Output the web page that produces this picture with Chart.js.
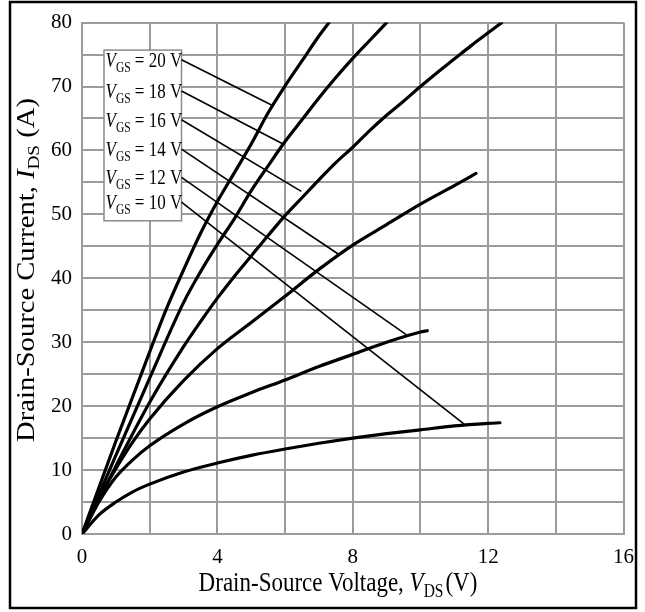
<!DOCTYPE html>
<html><head><meta charset="utf-8">
<script src="https://cdn.jsdelivr.net/npm/chart.js@4"></script>
<style>html,body{margin:0;padding:0;background:#fff;}#wrap{width:645px;height:612px;}</style>
</head><body><div id="wrap"><canvas id="c" width="645" height="612"></canvas></div>
<script>
// ---- data ----
const vgsLabels = ['20', '18', '16', '14', '12', '10'];

const vds20 = [0, 1, 2, 2.5, 3, 3.5, 4, 4.5, 5, 5.5, 6, 6.5, 7, 7.3];
const ids20 = [0, 14.5, 28.5, 35.3, 41.3, 47.0, 52.0, 56.5, 61.0, 65.9, 70.1, 74.0, 77.9, 80];

const vds18 = [0, 1, 2, 3, 3.5, 4, 4.5, 5, 5.5, 6, 6.5, 7, 7.5, 8, 8.5, 9];
const ids18 = [0, 12.3, 24.4, 36.2, 41.0, 45.3, 49.3, 53.7, 57.6, 61.4, 64.8, 68.2, 71.4, 74.4, 77.2, 80];

const vds16 = [0, 1, 2, 3, 3.5, 4, 4.5, 5, 5.5, 6, 6.5, 7, 7.5, 8, 8.5, 9, 9.5, 10, 10.5, 11, 11.5, 12, 12.4];
const ids16 = [0, 10.6, 20.6, 29.3, 33.2, 36.9, 40.3, 43.5, 46.7, 49.8, 52.6, 55.4, 58.1, 60.5, 63.1, 65.5, 67.7, 70.0, 72.2, 74.3, 76.4, 78.4, 80];

const vds14 = [0, 0.5, 1, 1.5, 2, 3, 4, 5, 6, 7, 8, 9, 10, 11, 11.64];
const ids14 = [0, 5.6, 10.2, 14.4, 18.0, 24.0, 29.0, 33.1, 37.2, 41.4, 45.2, 48.4, 51.6, 54.5, 56.4];

const vds12 = [0, 0.5, 1, 1.5, 2, 3, 4, 5, 6, 7, 8, 9, 10, 10.2];
const ids12 = [0, 5.0, 8.9, 11.6, 13.8, 17.2, 19.9, 22.1, 24.1, 26.2, 28.1, 30.0, 31.6, 31.8];

const vds10 = [0, 0.5, 1, 1.5, 2, 3, 4, 5, 6, 7, 8, 9, 10, 11, 12, 12.35];
const ids10 = [0, 3.0, 5.0, 6.6, 7.8, 9.7, 11.1, 12.3, 13.3, 14.2, 15.0, 15.7, 16.3, 16.9, 17.3, 17.4];

// label pointer lines (start at the label box, end on the curve)
const pointerStartVds = [2.94, 2.94, 2.94, 2.94, 2.94, 2.94];
const pointerStartIds = [74.2, 69.3, 64.8, 60.2, 55.8, 51.9];
const pointerEndVds = [5.60, 5.94, 6.48, 7.57, 9.58, 11.33];
const pointerEndIds = [67.1, 61.0, 53.6, 43.8, 31.2, 17.05];

// label box corners (data units)
const boxVds = [0.65, 2.94];
const boxIds = [75.7, 49.0];

// axes
const xTickLabels = [0, 4, 8, 12, 16];
const yTickLabels = [0, 10, 20, 30, 40, 50, 60, 70, 80];

// ---- chart ----
const SERIF = '"Liberation Serif", "Times New Roman", Times, serif';
const GRID = '#9b9b9b';
const curveX = [vds20, vds18, vds16, vds14, vds12, vds10];
const curveY = [ids20, ids18, ids16, ids14, ids12, ids10];
const toPts = (xs, ys) => xs.map((x, i) => ({x: x, y: ys[i]}));

const datasets = [];
curveX.forEach((xs, k) => {
  datasets.push({
    label: 'VGS = ' + vgsLabels[k] + ' V',
    data: toPts(xs, curveY[k]),
    borderColor: '#000', borderWidth: 3.2, pointRadius: 0,
    cubicInterpolationMode: 'monotone', fill: false, borderCapStyle: 'round'
  });
});
pointerStartVds.forEach((v, k) => {
  datasets.push({
    label: 'pointer ' + vgsLabels[k],
    data: [{x: v, y: pointerStartIds[k]}, {x: pointerEndVds[k], y: pointerEndIds[k]}],
    borderColor: '#000', borderWidth: 1.6, pointRadius: 0, tension: 0, fill: false
  });
});

// draws mixed-style text; sy stretches glyphs perpendicular to the text direction
function drawRich(ctx, segs, x, y, align, sy) {
  let w = 0;
  const measured = segs.map(s => {
    ctx.font = (s.italic ? 'italic ' : '') + s.size + 'px ' + SERIF;
    const m = ctx.measureText(s.t).width + (s.gap || 0);
    w += m;
    return m;
  });
  ctx.save();
  ctx.translate(x, y);
  ctx.scale(1, sy || 1);
  let cx = align === 'center' ? -w / 2 : 0;
  segs.forEach((s, i) => {
    ctx.font = (s.italic ? 'italic ' : '') + s.size + 'px ' + SERIF;
    ctx.fillText(s.t, cx, (s.dy || 0));
    cx += measured[i];
  });
  ctx.restore();
}

const decor = {
  id: 'decor',
  beforeDatasetsDraw(chart) {
    const ctx = chart.ctx, xs = chart.scales.x, ys = chart.scales.y;
    const l = xs.getPixelForValue(boxVds[0]), r = xs.getPixelForValue(boxVds[1]);
    const t = ys.getPixelForValue(boxIds[0]), b = ys.getPixelForValue(boxIds[1]);
    ctx.save();
    ctx.fillStyle = '#fff';
    ctx.fillRect(l, t, r - l, b - t);
    ctx.strokeStyle = '#8a8a8a';
    ctx.lineWidth = 1.5;
    ctx.strokeRect(l, t, r - l, b - t);
    ctx.fillStyle = '#000';
    ctx.textBaseline = 'alphabetic';
    vgsLabels.forEach((lab, k) => {
      const py = ys.getPixelForValue(pointerStartIds[k]) + 7;
      drawRich(ctx, [
        {t: 'V', size: 17, italic: true},
        {t: 'GS', size: 11.5, dy: 4},
        {t: ' = ' + lab + ' V', size: 17}
      ], l + 1.5, py, 'left', 1.22);
    });
    ctx.restore();
  },
  afterDraw(chart) {
    const ctx = chart.ctx;
    ctx.save();
    ctx.strokeStyle = '#000';
    ctx.lineWidth = 2.5;
    ctx.strokeRect(10, 2, 626, 606);
    ctx.fillStyle = '#000';
    ctx.textBaseline = 'alphabetic';
    // x title
    drawRich(ctx, [
      {t: 'Drain-Source Voltage, ', size: 23},
      {t: 'V', size: 23, italic: true},
      {t: 'DS', size: 15.5, dy: 5, gap: 2},
      {t: '(V)', size: 23}
    ], 338, 591, 'center', 1.2);
    ctx.restore();
    // y title (rotated): stretch along the text direction
    ctx.save();
    ctx.fillStyle = '#000';
    ctx.textBaseline = 'alphabetic';
    ctx.translate(34, 270);
    ctx.rotate(-Math.PI / 2);
    ctx.scale(1.1, 1);
    drawRich(ctx, [
      {t: 'Drain-Source Current, ', size: 26},
      {t: 'I', size: 26, italic: true},
      {t: 'DS', size: 17.5, dy: 5},
      {t: ' (A)', size: 26}
    ], 0, 0, 'center', 1);
    ctx.restore();
  }
};

new Chart(document.getElementById('c'), {
  type: 'line',
  data: {datasets: datasets},
  options: {
    responsive: false, animation: false, devicePixelRatio: 1,
    layout: {padding: {left: 0, right: 21, top: 19, bottom: 0}},
    plugins: {legend: {display: false}, tooltip: {enabled: false}},
    scales: {
      x: {
        type: 'linear', min: 0, max: 16,
        afterFit(s) { s.height = 78; },
        grid: {color: GRID, lineWidth: 2, drawTicks: false},
        border: {color: GRID, width: 2},
        ticks: {
          stepSize: 2, padding: 11, color: '#000', maxRotation: 0, autoSkip: false,
          font: {family: SERIF, size: 21},
          callback: v => xTickLabels.includes(v) ? String(v) : ''
        }
      },
      y: {
        type: 'linear', min: 0, max: 80,
        afterFit(s) { s.width = 82; },
        grid: {color: GRID, lineWidth: 2, drawTicks: false},
        border: {color: GRID, width: 2},
        ticks: {
          stepSize: 5, padding: 10, color: '#000', autoSkip: false,
          font: {family: SERIF, size: 21},
          callback: v => yTickLabels.includes(v) ? String(v) : ''
        }
      }
    }
  },
  plugins: [decor]
});
</script>
</body></html>
